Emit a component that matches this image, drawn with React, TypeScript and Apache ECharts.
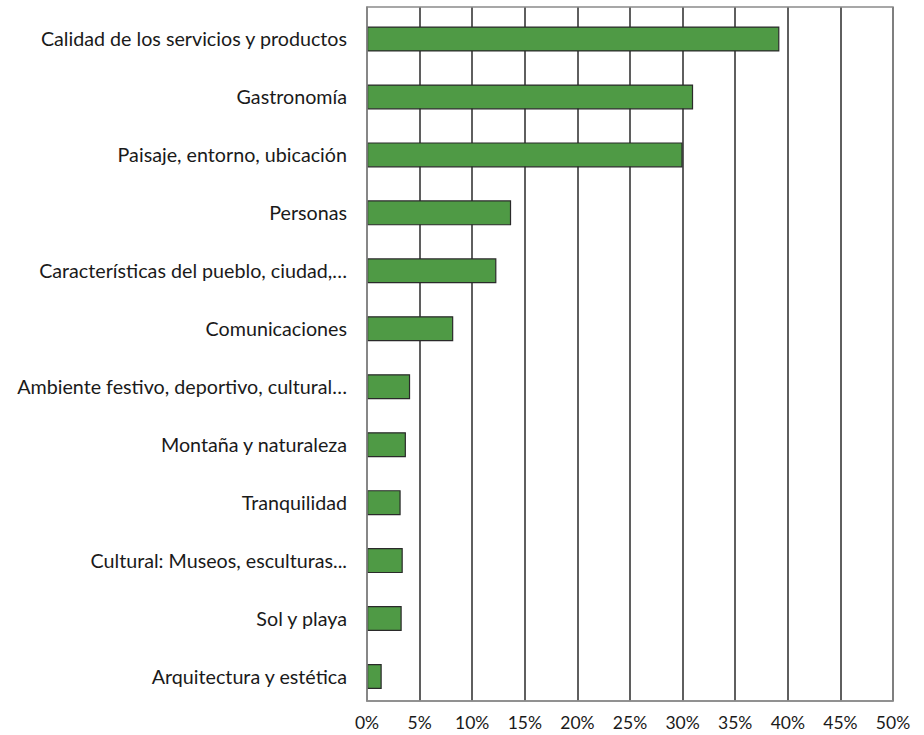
import React, { useEffect, useRef } from "react";
import * as echarts from "echarts";

const categories = [
  "Calidad de los servicios y productos",
  "Gastronomía",
  "Paisaje, entorno, ubicación",
  "Personas",
  "Características del pueblo, ciudad,…",
  "Comunicaciones",
  "Ambiente festivo, deportivo, cultural…",
  "Montaña y naturaleza",
  "Tranquilidad",
  "Cultural: Museos, esculturas...",
  "Sol y playa",
  "Arquitectura y estética",
];

const values = [39.2, 31.0, 30.0, 13.7, 12.3, 8.2, 4.1, 3.7, 3.2, 3.4, 3.3, 1.4];

const xMin = 0;
const xMax = 50;
const xInterval = 5;

export default function App() {
  const ref = useRef<HTMLDivElement>(null);
  useEffect(() => {
    if (!ref.current) return;
    const chart = echarts.init(ref.current, null, { renderer: "svg" });
    const font = "Lato, 'Open Sans', sans-serif";
    chart.setOption({
      animation: false,
      grid: [
        { left: 367, right: 31, top: 7, bottom: 34, containLabel: false },
        { left: 367, right: 31, top: 10, bottom: 29.5, containLabel: false },
      ],
      xAxis: [
        {
          type: "value",
          gridIndex: 0,
          min: xMin,
          max: xMax,
          interval: xInterval,
          position: "bottom",
          axisLine: { show: true, lineStyle: { color: "#8a8a8a", width: 1.5 } },
          axisTick: { show: false },
          axisLabel: {
            formatter: (v: number) => `${v}%`,
            color: "#1a1a1a",
            fontSize: 17.5,
            fontFamily: font,
            margin: 12,
          },
          splitLine: { show: true, lineStyle: { color: "#2a2a2a", width: 1.5 } },
        },
        {
          type: "value",
          gridIndex: 1,
          min: xMin,
          max: xMax,
          interval: xInterval,
          show: false,
        },
      ],
      yAxis: [
        {
          type: "category",
          gridIndex: 0,
          data: categories,
          inverse: true,
          axisLine: { show: true, lineStyle: { color: "#8a8a8a", width: 1.5 } },
          axisTick: { show: false },
          axisLabel: { show: false },
        },
        {
          type: "category",
          gridIndex: 1,
          data: categories,
          inverse: true,
          axisLine: { show: false },
          axisTick: { show: false },
          splitLine: { show: false },
          axisLabel: {
            color: "#1a1a1a",
            fontSize: 19.7,
            fontFamily: font,
            margin: 20,
          },
        },
      ],
      series: [
        {
          type: "bar",
          xAxisIndex: 1,
          yAxisIndex: 1,
          data: values,
          barWidth: 25,
          z: 5,
          itemStyle: { color: "#4f9a45", borderColor: "#2a2a2a", borderWidth: 1.2 },
        },
      ],
      graphic: [
        {
          type: "rect",
          shape: { x: 367, y: 7, width: 526, height: 694 },
          style: { fill: "none", stroke: "#8a8a8a", lineWidth: 1.5 },
          silent: true,
          z: 10,
        },
      ],
    });
    return () => chart.dispose();
  }, []);
  return (
    <div
      ref={ref}
      style={{ position: "absolute", left: 0, top: 0, width: 924, height: 735 }}
    />
  );
}
